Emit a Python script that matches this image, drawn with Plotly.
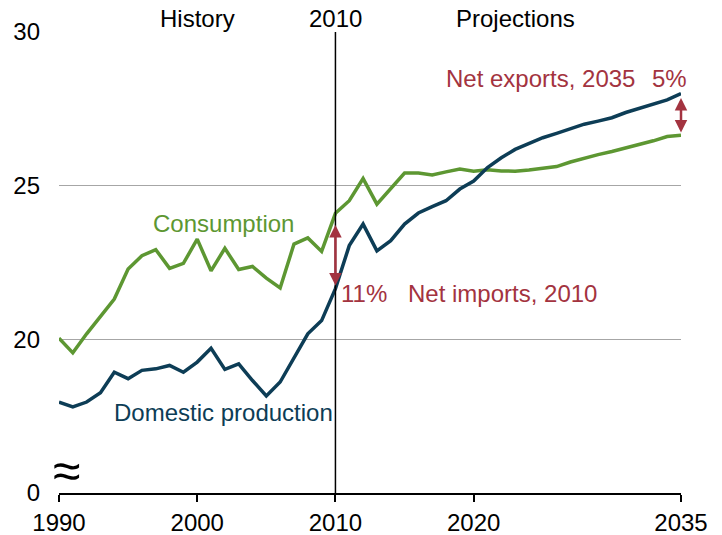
import plotly.graph_objects as go

years = list(range(1990, 2036))
consumption = [20.04, 19.56, 20.18, 20.75, 21.31, 22.29, 22.72, 22.92, 22.31, 22.47,
               23.26, 22.23, 22.96, 22.27, 22.37, 21.99, 21.67, 23.10, 23.30, 22.86,
               24.10, 24.51, 25.23, 24.40, 24.89, 25.41, 25.41, 25.35, 25.45, 25.54,
               25.47, 25.52, 25.48, 25.47, 25.51, 25.57, 25.62, 25.77, 25.90, 26.01,
               26.11, 26.22, 26.35, 26.46, 26.60, 26.64]
production = [17.96, 17.80, 17.96, 18.26, 18.93, 18.72, 18.99, 19.04, 19.15, 18.93,
              19.26, 19.71, 19.02, 19.20, 18.66, 18.16, 18.61, 19.37, 20.18, 20.61,
              21.65, 23.05, 23.75, 22.88, 23.21, 23.75, 24.11, 24.32, 24.51, 24.89,
              25.15, 25.59, 25.91, 26.18, 26.38, 26.56, 26.70, 26.86, 27.00, 27.10,
              27.21, 27.38, 27.52, 27.65, 27.79, 28.00]

x_ticks = [1990, 2000, 2010, 2020, 2035]
y_ticks = [15, 20, 25, 30]
y_tick_text = ["0", "20", "25", "30"]

GREEN = "#5D9732"
BLUE = "#0D3D56"
RED = "#A33340"
FONT = "Liberation Sans, Arial, sans-serif"
FS = 24

fig = go.Figure()
fig.add_trace(go.Scatter(x=years, y=consumption, mode="lines",
                         line=dict(color=GREEN, width=3.5), name="Consumption"))
fig.add_trace(go.Scatter(x=years, y=production, mode="lines",
                         line=dict(color=BLUE, width=3.5), name="Domestic production"))

# 2010 divider
fig.add_shape(type="line", x0=2010, x1=2010, y0=15, y1=30, xref="x", yref="y",
              line=dict(color="black", width=1.5))

def txt(x, y, s, color="black", yref="y", size=FS):
    fig.add_annotation(x=x, y=y, text=s, showarrow=False, xref="x", yref=yref,
                       xanchor="center", yanchor="middle",
                       font=dict(family=FONT, size=size, color=color))

txt(2001.9, 23.78, "Consumption", GREEN)
txt(2001.9, 17.61, "Domestic production", BLUE)
txt(2012.1, 21.48, "11%", RED)
txt(2022.1, 21.48, "Net imports, 2010", RED)
txt(2024.8, 28.49, "Net exports, 2035", RED)
txt(2034.2, 28.49, "5%", RED)
txt(2000.0, 1.03, "History", yref="paper")
txt(2010.0, 1.03, "2010", yref="paper")
txt(2023.0, 1.03, "Projections", yref="paper")

# difference arrows
fig.add_annotation(x=2010, y=21.75, ax=2010, ay=23.77,
                   xref="x", yref="y", axref="x", ayref="y", text="", showarrow=True,
                   arrowhead=2, arrowside="end+start", arrowsize=1, arrowwidth=2.5,
                   arrowcolor=RED)
fig.add_annotation(x=2035, y=26.73, ax=2035, ay=27.90,
                   xref="x", yref="y", axref="x", ayref="y", text="", showarrow=True,
                   arrowhead=2, arrowside="end+start", arrowsize=1, arrowwidth=2.5,
                   arrowcolor=RED)

# axis break symbol
fig.add_annotation(x=1990.55, y=15.7, text="≈", showarrow=False, xref="x", yref="y",
                   font=dict(family=FONT, size=50, color="black"))

fig.update_layout(
    width=714, height=527,
    margin=dict(l=51, r=41, t=24, b=42),
    paper_bgcolor="white", plot_bgcolor="white",
    showlegend=False,
    font=dict(family=FONT, size=FS, color="black"),
    xaxis=dict(range=[1990, 2035], tickvals=x_ticks, ticks="outside", ticklen=7,
               tickcolor="black", tickwidth=1.5, showgrid=False, zeroline=False,
               showline=True, linecolor="black", linewidth=1.5, automargin=False,
               tickfont=dict(family=FONT, size=FS, color="black")),
    yaxis=dict(range=[15, 30], tickvals=y_ticks, ticktext=y_tick_text,
               showgrid=True, gridcolor="#A6A6A6", gridwidth=1, zeroline=False,
               showline=False, ticks="", ticklabelstandoff=18, automargin=False,
               tickfont=dict(family=FONT, size=FS, color="black")),
)

fig.write_html("out.html")
